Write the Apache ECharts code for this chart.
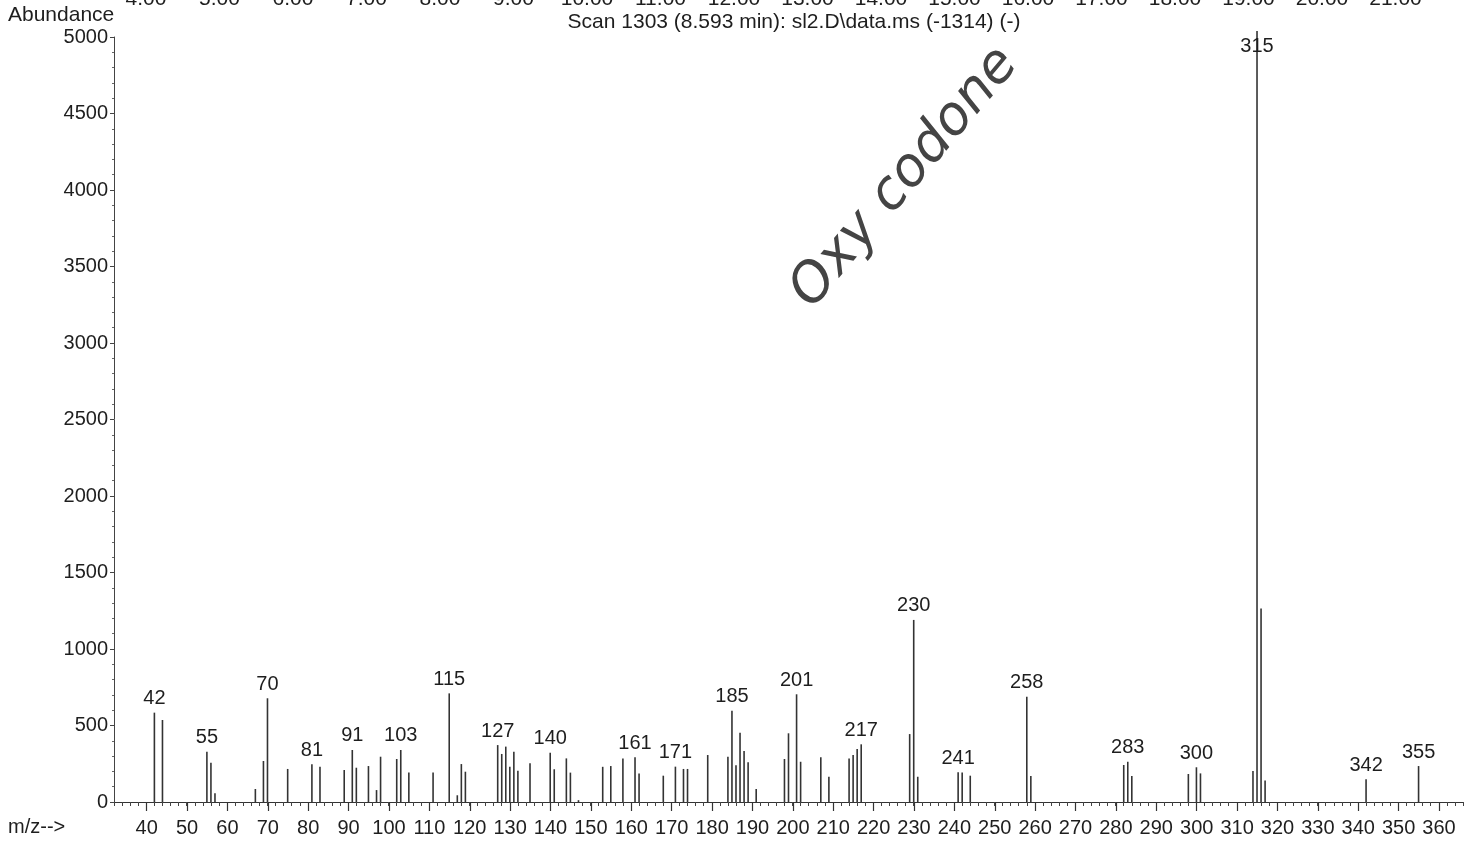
<!DOCTYPE html>
<html>
<head>
<meta charset="utf-8">
<script src="https://cdn.jsdelivr.net/npm/echarts@6/dist/echarts.min.js"></script>
<style>
html,body{margin:0;padding:0;background:#fff;}
#chart{width:1469px;height:856px;}
</style>
</head>
<body>
<div id="chart"></div>
<script>
// m/z values of the peaks
var mz = [42,44,55,56,57,67,69,70,75,81,83,89,91,92,95,97,98,102,103,105,111,115,117,118,119,
  127,128,129,130,131,132,135,140,141,144,145,147,153,155,158,161,162,168,171,173,174,179,
  184,185,186,187,188,189,191,198,199,201,202,207,209,214,215,216,217,229,230,231,241,242,244,
  258,259,282,283,284,298,300,301,314,315,316,317,342,355];
// abundance of each peak
var abundance = [584,536,329,257,57,85,268,678,216,246,231,209,340,224,235,78,296,281,340,192,192,710,44,248,198,
  372,314,362,231,329,205,253,322,214,285,192,12,230,235,285,292,187,172,231,216,216,307,
  296,597,240,453,333,259,85,281,449,704,263,292,165,285,307,346,377,444,1190,165,194,192,172,
  688,170,242,263,170,183,227,187,203,5040,1265,140,148,235];
// peaks that carry an m/z label
var labeledMz = [42,55,70,81,91,103,115,127,140,161,171,185,201,217,230,241,258,283,300,315,342,355];
// chromatogram time labels cut off at the top of the page
var timeLabels = ['4.00','5.00','6.00','7.00','8.00','9.00','10.00','11.00','12.00','13.00','14.00','15.00','16.00','17.00','18.00','19.00','20.00','21.00'];

var titleText = 'Scan 1303 (8.593 min): sl2.D\\data.ms (-1314) (-)';
var FONT = '"Liberation Sans", Arial, sans-serif';
var INK = '#1e1e1e';

var seriesData = mz.map(function (m, i) {
  var item = { value: [m, abundance[i]] };
  if (labeledMz.indexOf(m) >= 0) {
    item.label = { show: true, position: m === 315 ? 'insideTop' : 'top', distance: m === 315 ? 6 : 4 };
  }
  return item;
});

var chart = echarts.init(document.getElementById('chart'));

var timeGraphics = timeLabels.map(function (t, i) {
  return {
    type: 'text', x: 146 + i * 73.5, y: -11,
    style: { text: t, font: '21px ' + FONT, fill: INK, textAlign: 'center', textVerticalAlign: 'top' }
  };
});

chart.setOption({
  animation: false,
  backgroundColor: '#ffffff',
  grid: [
    { left: 114, right: 6, top: 37, bottom: 54 },
    { left: 146.7, right: 30, top: 37, bottom: 54 }
  ],
  xAxis: [
    {
      type: 'value', gridIndex: 0, min: 32, max: 366, interval: 2,
      axisLine: { show: true, lineStyle: { color: '#333', width: 1.2 } },
      axisTick: { show: true, length: 4, lineStyle: { color: '#444' } },
      axisLabel: { show: false },
      splitLine: { show: false }
    },
    {
      type: 'value', gridIndex: 1, min: 40, max: 360, interval: 10,
      axisLine: { show: false },
      axisTick: { show: true, length: 9, lineStyle: { color: '#333', width: 1.2 } },
      axisLabel: { show: true, margin: 16, fontSize: 20, fontFamily: FONT, color: INK },
      splitLine: { show: false }
    }
  ],
  yAxis: [
    {
      type: 'value', gridIndex: 0, min: 0, max: 5000, interval: 500,
      axisLine: { show: true, lineStyle: { color: '#444', width: 1 } },
      axisTick: { show: true, length: 4, lineStyle: { color: '#444' } },
      minorTick: { show: true, splitNumber: 5, length: 2, lineStyle: { color: '#666' } },
      axisLabel: {
        show: true, margin: 6, fontSize: 20, fontFamily: FONT, color: INK,
        formatter: function (v) { return String(v); }
      },
      splitLine: { show: false }
    },
    {
      type: 'value', gridIndex: 1, min: 0, max: 5000, show: false
    }
  ],
  series: [
    {
      type: 'bar', xAxisIndex: 0, yAxisIndex: 0,
      data: seriesData,
      barWidth: 1.6,
      clip: false,
      itemStyle: { color: '#333' },
      label: {
        show: false, fontSize: 20, fontFamily: FONT, color: INK,
        formatter: function (p) { return p.value[0]; }
      }
    }
  ],
  graphic: [
    { type: 'text', left: 8, top: 5, style: { text: 'Abundance', font: '21px ' + FONT, fill: INK } },
    { type: 'text', left: 8, top: 817, style: { text: 'm/z-->', font: '20px ' + FONT, fill: INK } },
    { type: 'text', x: 794, y: 12, style: { text: titleText, font: '21px ' + FONT, fill: INK, textAlign: 'center' } },
    {
      type: 'text', x: 822, y: 318, rotation: 0.87,
      style: { text: 'Oxy codone', font: 'italic 200 54px "DejaVu Sans", sans-serif', fill: '#444', textVerticalAlign: 'bottom' }
    }
  ].concat(timeGraphics)
});
</script>
</body>
</html>
